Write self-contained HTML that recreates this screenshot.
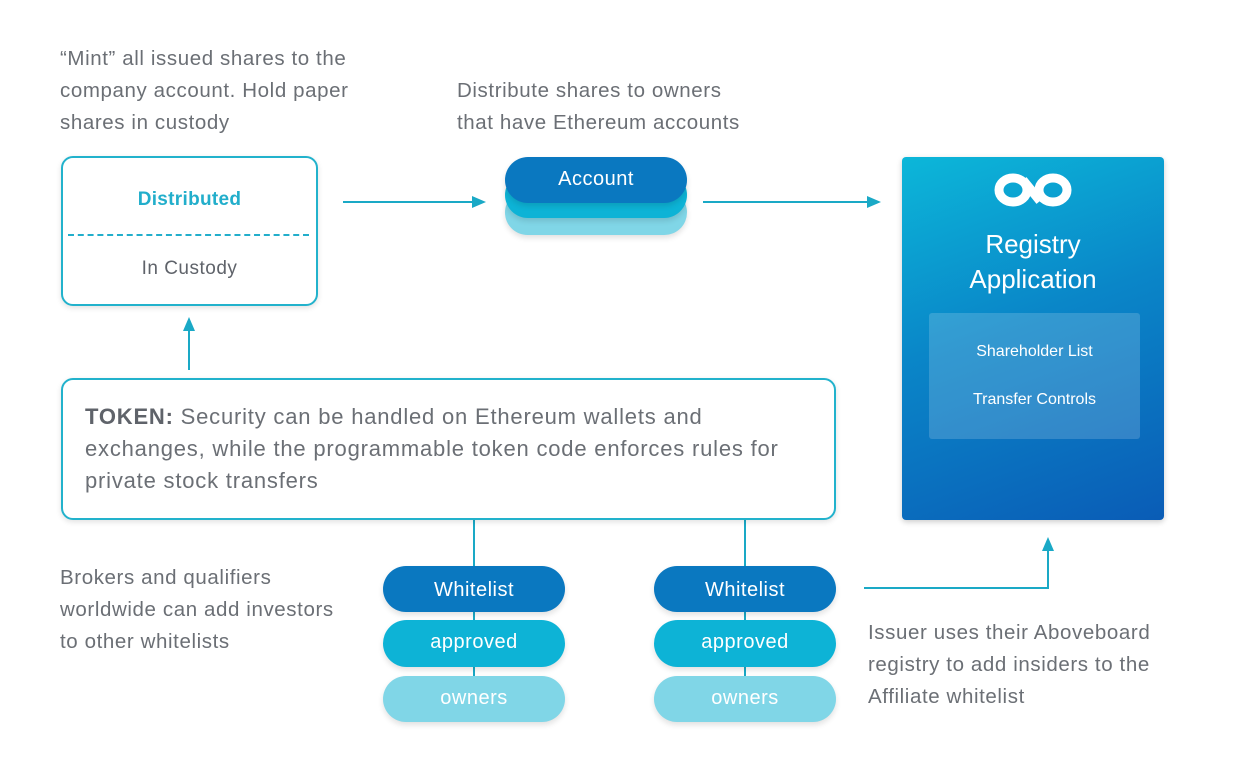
<!DOCTYPE html>
<html><head><meta charset="utf-8"><style>
*{margin:0;padding:0;box-sizing:border-box}
body{width:1250px;height:769px;background:#fff;position:relative;font-family:"Liberation Sans",sans-serif;color:#6b6f75;overflow:hidden}
.t{position:absolute;white-space:nowrap;font-size:20.5px;letter-spacing:0.6px;line-height:32px}
.box{position:absolute;border:2px solid #22b2cc;border-radius:12px;background:#fff;box-shadow:0 2px 6px rgba(0,0,0,.12)}
.pill{position:absolute;border-radius:24px;color:#fff;text-align:center;font-size:20px;letter-spacing:0.5px;box-shadow:0 3px 6px rgba(0,0,0,.12)}
.tk{font-size:22px;letter-spacing:0.8px}
</style></head><body>
<div class="t" style="left:60px;top:43px">“Mint” all issued shares to the</div>
<div class="t" style="left:60px;top:75px">company account. Hold paper</div>
<div class="t" style="left:60px;top:107px">shares in custody</div>
<div class="t" style="left:457px;top:75px">Distribute shares to owners</div>
<div class="t" style="left:457px;top:107px">that have Ethereum accounts</div>

<div class="box" style="left:61px;top:156px;width:257px;height:150px">
<div style="position:absolute;left:0;right:0;top:31px;text-align:center;color:#22aecb;font-weight:bold;font-size:19px;letter-spacing:0.3px">Distributed</div>
<div style="position:absolute;left:5px;right:7px;top:76px;border-top:2px dashed #22aecb"></div>
<div style="position:absolute;left:0;right:0;top:100px;text-align:center;font-size:19px;letter-spacing:0.5px;color:#5f636a">In Custody</div>
</div>

<svg style="position:absolute;left:0;top:0" width="1250" height="769">
<g stroke="#1aa9c6" stroke-width="2" fill="none">
<line x1="343" y1="202" x2="474" y2="202"/>
<line x1="703" y1="202" x2="868" y2="202"/>
<line x1="189" y1="370" x2="189" y2="330"/>
<polyline points="864,588 1048,588 1048,550"/>
<line x1="474" y1="519" x2="474" y2="700"/>
<line x1="745" y1="519" x2="745" y2="700"/>
</g>
<g fill="#1aa9c6">
<polygon points="486,202 472,196 472,208"/>
<polygon points="881,202 867,196 867,208"/>
<polygon points="189,317 183,331 195,331"/>
<polygon points="1048,537 1042,551 1054,551"/>
</g>
</svg>

<div class="pill" style="left:505px;top:190px;width:182px;height:45px;background:#80d6e7"></div>
<div class="pill" style="left:505px;top:172px;width:182px;height:46px;background:#0db3d6"></div>
<div class="pill" style="left:505px;top:157px;width:182px;height:46px;background:#0a78c0;line-height:44px">Account</div>

<div style="position:absolute;left:902px;top:157px;width:262px;height:363px;border-radius:4px;background:linear-gradient(160deg,#0cb7d9 0%,#0a86c8 45%,#0a5cb6 100%);box-shadow:0 2px 6px rgba(0,0,0,.2);color:#fff;text-align:center">
<svg style="position:absolute;left:90px;top:14px" width="82" height="38"><g stroke="#fff" stroke-width="9" fill="none"><ellipse cx="21" cy="19" rx="14" ry="12"/><ellipse cx="61" cy="19" rx="14" ry="12"/><line x1="31" y1="9" x2="48" y2="30"/></g></svg>
<div style="position:absolute;left:0;right:0;top:70px;font-size:26px;line-height:35px">Registry<br>Application</div>
<div style="position:absolute;left:27px;top:156px;width:211px;height:126px;background:rgba(255,255,255,.17);border-radius:3px;font-size:16px">
<div style="position:absolute;left:0;right:0;top:30px">Shareholder List</div>
<div style="position:absolute;left:0;right:0;top:78px">Transfer Controls</div>
</div>
</div>

<div class="box" style="left:61px;top:378px;width:775px;height:142px"></div>
<div class="t tk" style="left:85px;top:401px"><b style="color:#5f636a">TOKEN:</b> Security can be handled on Ethereum wallets and</div>
<div class="t tk" style="left:85px;top:433px">exchanges, while the programmable token code enforces rules for</div>
<div class="t tk" style="left:85px;top:465px">private stock transfers</div>

<div class="t" style="left:60px;top:562px">Brokers and qualifiers</div>
<div class="t" style="left:60px;top:594px">worldwide can add investors</div>
<div class="t" style="left:60px;top:626px">to other whitelists</div>

<div class="pill" style="left:383px;top:566px;width:182px;height:46px;background:#0a78c0;line-height:48px">Whitelist</div>
<div class="pill" style="left:383px;top:620px;width:182px;height:47px;background:#0db3d6;line-height:45px">approved</div>
<div class="pill" style="left:383px;top:676px;width:182px;height:46px;background:#80d6e7;line-height:44px">owners</div>
<div class="pill" style="left:654px;top:566px;width:182px;height:46px;background:#0a78c0;line-height:48px">Whitelist</div>
<div class="pill" style="left:654px;top:620px;width:182px;height:47px;background:#0db3d6;line-height:45px">approved</div>
<div class="pill" style="left:654px;top:676px;width:182px;height:46px;background:#80d6e7;line-height:44px">owners</div>

<div class="t" style="left:868px;top:617px">Issuer uses their Aboveboard</div>
<div class="t" style="left:868px;top:649px">registry to add insiders to the</div>
<div class="t" style="left:868px;top:681px">Affiliate whitelist</div>
</body></html>
